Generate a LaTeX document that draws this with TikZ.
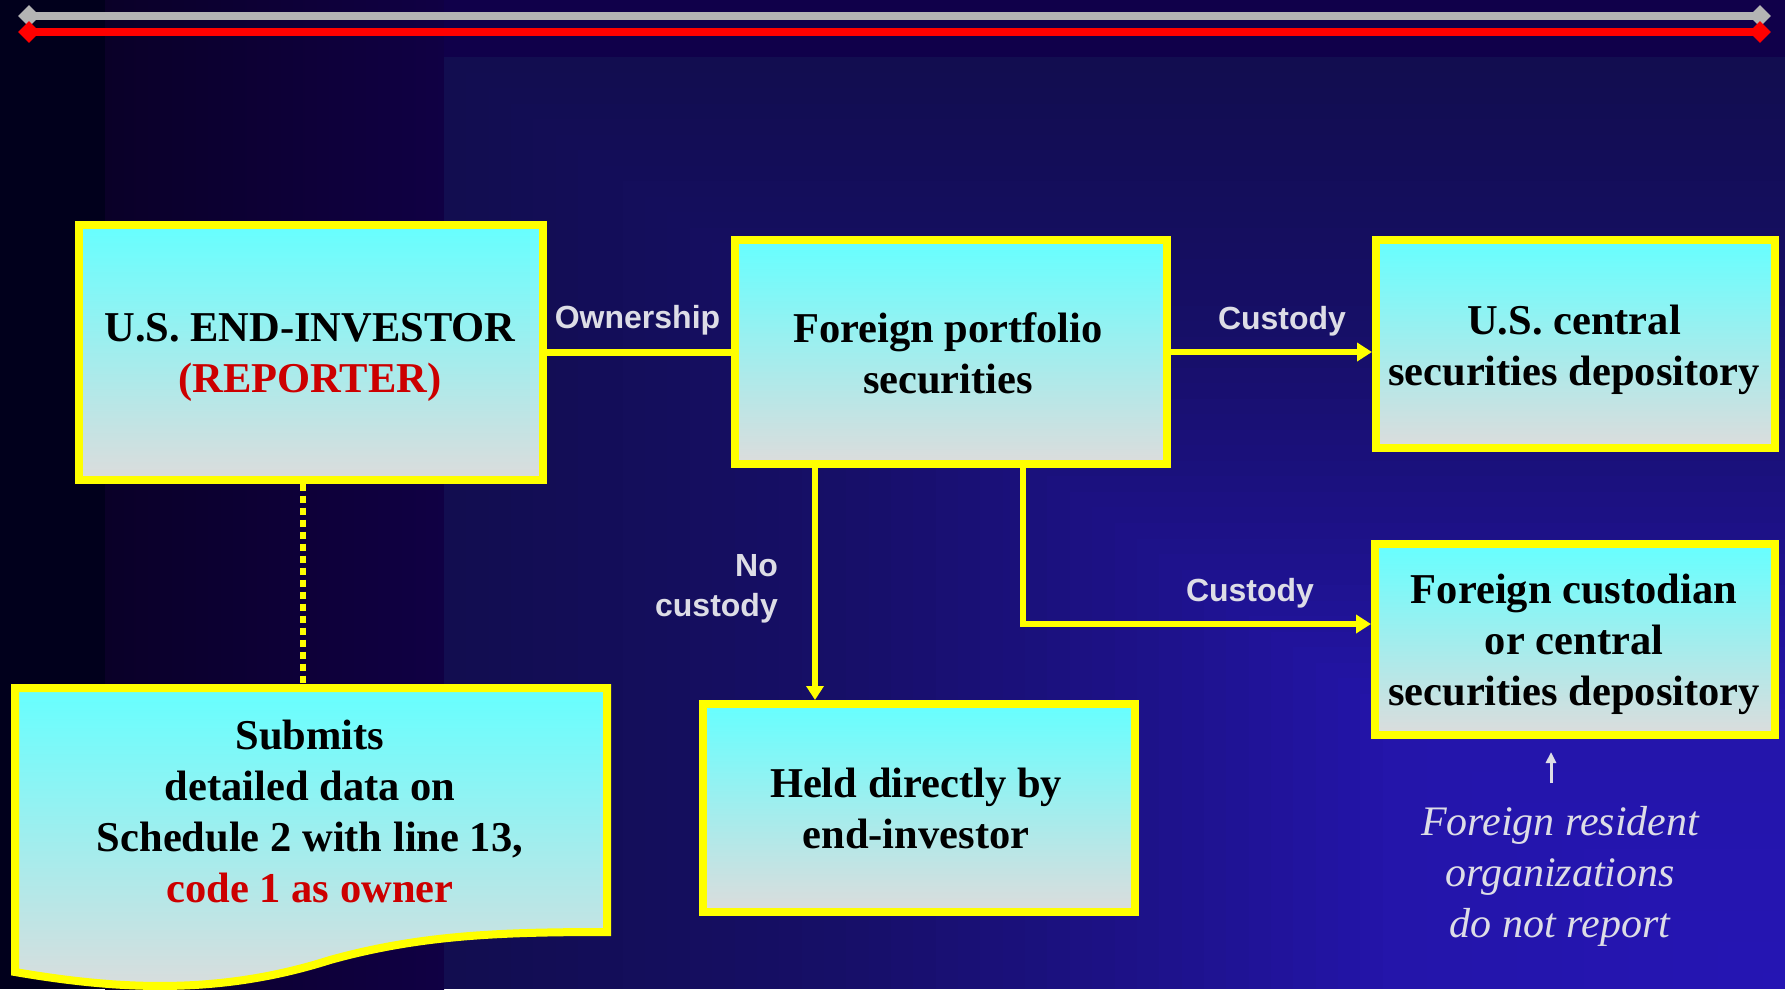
\documentclass[tikz,border=0pt]{standalone}
\usepackage{fontspec}
\setmainfont{Liberation Serif}
\newfontfamily\lblfont{Liberation Sans}
\usetikzlibrary{arrows.meta,shapes.geometric}
\definecolor{yel}{HTML}{FFFF00}
\definecolor{boxtop}{HTML}{66FFFF}
\definecolor{boxbot}{HTML}{DCDCDC}
\definecolor{redtxt}{HTML}{CC0000}
\definecolor{lblgrey}{HTML}{DDDDE6}
\definecolor{greyline}{HTML}{B4B4B4}
\definecolor{redline}{HTML}{FF0000}
\definecolor{bgblack}{HTML}{01001C}
\definecolor{bgbandL}{HTML}{0A0028}
\definecolor{bgbandR}{HTML}{100044}
\definecolor{bgtop}{HTML}{10004A}
\definecolor{bgstep}{HTML}{120D50}
\begin{document}
\begin{tikzpicture}[x=1pt, y=-1pt,
  box/.style={draw=yel, line width=8pt, top color=boxtop, bottom color=boxbot, inner sep=0pt},
  txt/.style={font=\fontsize{42.5}{51}\selectfont\bfseries, align=center, inner sep=0pt, text=black},
  lbl/.style={font=\lblfont\fontsize{32}{40}\selectfont\bfseries, text=lblgrey, inner sep=0pt},
  notetext/.style={font=\fontsize{42}{51}\selectfont\itshape, text=lblgrey, align=center, inner sep=0pt},
  conn/.style={draw=yel, line width=6pt},
  yarrow/.style={-{Triangle[length=15pt,width=18pt]}},
  dia/.style={diamond, fill=#1, minimum size=22pt, inner sep=0pt}]
\useasboundingbox (0,0) rectangle (1785,989);
% background
\fill[bgblack] (0,0) rectangle (1785,989);
\shade[left color=bgbandL, right color=bgbandR] (105,0) rectangle (444,989);
\fill[bgtop] (444,0) rectangle (1785,57);
% corner gradient (nested rectangles anchored at the bottom-right corner)
\foreach \k in {0,...,59}{
  \pgfmathsetmacro{\bgs}{1-\k/60}
  \pgfmathsetmacro{\bgf}{ifthenelse(\bgs<=0.3, 1-0.1*\bgs/0.3,
      ifthenelse(\bgs<=0.5, 0.9-0.35*(\bgs-0.3)/0.2,
      ifthenelse(\bgs<=0.7, 0.55-0.3*(\bgs-0.5)/0.2, 0.25-0.25*(\bgs-0.7)/0.3)))}
  \pgfmathtruncatemacro{\bgr}{18+20*\bgf}
  \pgfmathtruncatemacro{\bgg}{13+9*\bgf}
  \pgfmathtruncatemacro{\bgb}{80+100*\bgf}
  \pgfmathsetmacro{\bgx}{1785-\bgs*1341}
  \pgfmathsetmacro{\bgy}{989-\bgs*932}
  \definecolor{bgstep}{RGB}{\bgr,\bgg,\bgb}
  \fill[bgstep] (\bgx,\bgy) rectangle (1785,989);
}
% top rules
\node[dia=greyline] (gL) at (29,16) {};
\node[dia=greyline] (gR) at (1760,16) {};
\draw[greyline, line width=8pt] (gL.center) -- (gR.center);
\node[dia=redline] (rL) at (29,32) {};
\node[dia=redline] (rR) at (1760,32) {};
\draw[redline, line width=8pt] (rL.center) -- (rR.center);
% boxes
\node[box, minimum width=464pt, minimum height=255pt] (A) at (311,352) {};
\node[box, minimum width=432pt, minimum height=224pt] (B) at (951,352) {};
\node[box, minimum width=399pt, minimum height=208pt] (C) at (1575.5,344) {};
\node[box, minimum width=400pt, minimum height=191pt] (D) at (1575,639.5) {};
\node[box, minimum width=432pt, minimum height=208pt] (E) at (919,808) {};
\path[draw=yel, line width=8pt, top color=boxtop, bottom color=boxbot]
  (15,688) -- (607,688) -- (607,932) .. controls (500,932) and (420,935) .. (330,960)
  .. controls (220,995) and (120,990) .. (15,972) -- cycle;
\coordinate (Ftop) at (303,684);
% box texts
\node[txt] (At) at (310,357.5) {U.S. END-INVESTOR\\\textcolor{redtxt}{(REPORTER)}};
\node[txt] (Bt) at (948,353) {Foreign portfolio\\securities};
\node[txt] (Ct) at (1574,349.5) {U.S. central\\securities depository};
\node[txt] (Dt) at (1574,644.5) {Foreign custodian\\or central\\securities depository};
\node[txt] (Et) at (916,808) {Held directly by\\end-investor};
\node[txt] (Ft) at (310,811) {Submits\\detailed data on\\Schedule 2 with line 13,\\\textcolor{redtxt}{code 1 as owner}};
% connectors
\draw[conn, line width=7pt] (A.east |- B.west) -- (B.west);
\draw[conn, yarrow] (B.east) -- (C.west |- B.east);
\coordinate (ncx) at (815,0);
\draw[conn, line width=5.5pt, -{Triangle[length=14pt,width=17pt]}] (ncx |- B.south) -- (ncx |- E.north);
\coordinate (cdx) at (1022.5,624);
\draw[conn, yarrow] (cdx |- B.south) -- (cdx) -- (D.west |- cdx);
\draw[yel, line width=6pt, dash pattern=on 7pt off 5pt] (Ftop |- A.south) -- (Ftop);
% labels
\node[lbl, anchor=base] (own) at (637.5,328) {Ownership};
\node[lbl, anchor=base] (cus1) at (1282,329) {Custody};
\node[lbl, anchor=base] (cus2) at (1250,601) {Custody};
\node[lbl, align=right, anchor=east] (nocus) at (778,589) {No\\custody};
% note
\node[notetext] (note) at (1560,876) {Foreign resident\\organizations\\do not report};
\coordinate (wa1) at (1551,783);
\coordinate (wa2) at (1551,752);
\draw[lblgrey, line width=3pt, -{Triangle[length=11pt,width=10pt]}] (wa1) -- (wa2);
\end{tikzpicture}
\end{document}
